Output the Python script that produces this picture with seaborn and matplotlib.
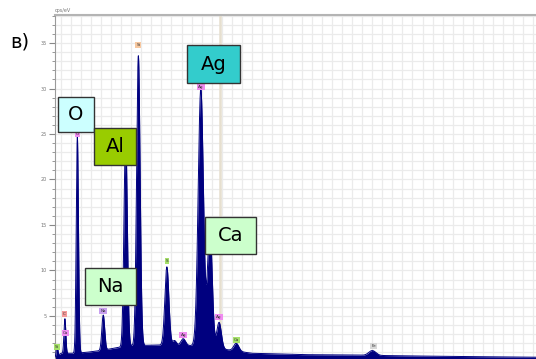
import numpy as np
import pandas as pd
import matplotlib
matplotlib.use("Agg")
import matplotlib.pyplot as plt
import seaborn as sns
from matplotlib.ticker import MultipleLocator
from matplotlib.patches import Rectangle

# ---- data ----
peak_names = ["Si", "C", "O", "Na", "Al", "Si", "S", "S", "Ag", "Ag", "Ag", "Ag", "Ca", "Fe"]
peak_energy = [0.12, 0.277, 0.525, 1.041, 1.487, 1.740, 2.308, 2.46, 2.634, 2.984, 3.165, 3.348, 3.691, 6.40]
peak_height = [1.8, 4.7, 24.7, 5.1, 25.0, 33.6, 10.4, 2.3, 2.5, 30.0, 15.0, 4.3, 2.0, 1.2]
peak_sigma = [0.015, 0.018, 0.022, 0.028, 0.033, 0.035, 0.040, 0.035, 0.045, 0.052, 0.045, 0.045, 0.050, 0.070]

bg_energy = [0.05, 0.2, 0.45, 0.7, 1.0, 1.3, 1.6, 2.0, 2.5, 3.0, 3.5, 4.0, 5.0, 6.0, 7.0, 8.0, 10.0]
bg_counts = [0.3, 0.9, 0.9, 1.0, 1.2, 1.5, 1.7, 1.8, 1.8, 1.7, 1.3, 0.9, 0.75, 0.7, 0.62, 0.55, 0.45]

tag_names = ["Si", "Ag", "O", "S", "Na", "C", "Ca", "Si", "Ag", "Ag", "Ca", "Fe"]
tag_energy = [1.740, 2.984, 0.525, 2.308, 1.041, 0.270, 0.285, 0.12, 2.634, 3.35, 3.70, 6.43]
tag_value = [34.8, 30.2, 25.0, 11.0, 5.5, 5.2, 3.1, 1.6, 2.9, 4.9, 2.4, 1.7]
tag_colors = ["#f7c8a0", "#f08cf0", "#f08cf0", "#a6e06a", "#c9a0f0", "#f49a9a", "#f08cf0",
              "#a6e06a", "#f08cf0", "#f08cf0", "#a6e06a", "#d8d8d8"]

box_names = ["O", "Al", "Ag", "Ca", "Na"]
box_energy = [0.498, 1.275, 3.237, 3.576, 1.185]
box_value = [27.14, 23.68, 32.69, 13.85, 8.24]
box_colors = ["#ccffff", "#99cc00", "#33cccc", "#ccffcc", "#ccffcc"]

# ---- build spectrum from peaks ----
E = np.linspace(0.05, 10, 6000)
bg = np.interp(E, bg_energy, bg_counts)
spec = bg.copy()
for e0, h, s in zip(peak_energy, peak_height, peak_sigma):
    amp = h - np.interp(e0, bg_energy, bg_counts)
    spec += amp * np.exp(-(E - e0) ** 2 / (2 * s ** 2))
df = pd.DataFrame({"keV": E, "cps": spec})

sns.set_style("white")
fig = plt.figure(figsize=(5.36, 3.59), dpi=100)
ax = fig.add_axes([55 / 536, 0.0, 1 - 55 / 536, 1 - 15 / 359])

ax.set_xlim(0.08, 9.66)
ax.set_ylim(0.27, 38.08)

ax.xaxis.set_major_locator(MultipleLocator(0.2))
ax.yaxis.set_major_locator(MultipleLocator(5))
ax.yaxis.set_minor_locator(MultipleLocator(1))
ax.grid(True, which="both", color="#ebebeb", linewidth=0.9)
ax.set_axisbelow(True)

# cursor line
ax.axvline(3.37, color="#e6dfcf", linewidth=1.8, zorder=1)

ax.fill_between(df["keV"], 0, df["cps"], color="#00007f", linewidth=0, zorder=2)
sns.lineplot(data=df, x="keV", y="cps", ax=ax, color="#000080", linewidth=0.7, zorder=3)

for sp in ["right", "bottom"]:
    ax.spines[sp].set_visible(False)
ax.spines["top"].set_color("#b4b4b4")
ax.spines["top"].set_linewidth(1.5)
ax.spines["left"].set_color("#9a9a9a")
ax.spines["left"].set_linewidth(0.8)

ax.tick_params(axis="y", which="major", length=4, color="#888888", labelsize=3.5,
               labelcolor="#777777", pad=2, left=True)
ax.tick_params(axis="y", which="minor", length=2.5, color="#888888", left=True)
ax.tick_params(axis="x", bottom=False, labelbottom=False)
ax.set_yticks([5, 10, 15, 20, 25, 30, 35])
ax.set_yticklabels(["5", "10", "15", "20", "25", "30", "35"])
ax.set_xlabel("")
ax.set_ylabel("")

ax.text(0.0, 1.005, "cps/eV", transform=ax.transAxes, fontsize=3.5, color="#777777",
        ha="left", va="bottom")

# small element tags
for n, e, v, c in zip(tag_names, tag_energy, tag_value, tag_colors):
    ax.text(e, v, n, fontsize=3, color="#333333", ha="center", va="center", zorder=5,
            bbox=dict(boxstyle="square,pad=0.25", fc=c, ec="none"))

# big labels (box sizes in pixels)
box_w_px = [36, 42, 53, 51, 51]
box_h_px = [35, 37, 38, 37, 37]
xpx = 50.2   # pixels per keV
ypx = 9.1    # pixels per cps/eV
for n, e, v, c, wp, hp in zip(box_names, box_energy, box_value, box_colors, box_w_px, box_h_px):
    w = wp / xpx
    h = hp / ypx
    ax.add_patch(Rectangle((e - w / 2, v - h / 2), w, h, facecolor=c, edgecolor="#333333",
                           linewidth=1.0, zorder=6))
    ax.text(e, v, n, fontsize=14, color="black", ha="center", va="center", zorder=7)

fig.text(10 / 536, 1 - 42 / 359, "в)", fontsize=14, color="black", ha="left", va="center")

fig.savefig("out.png", dpi=100)
